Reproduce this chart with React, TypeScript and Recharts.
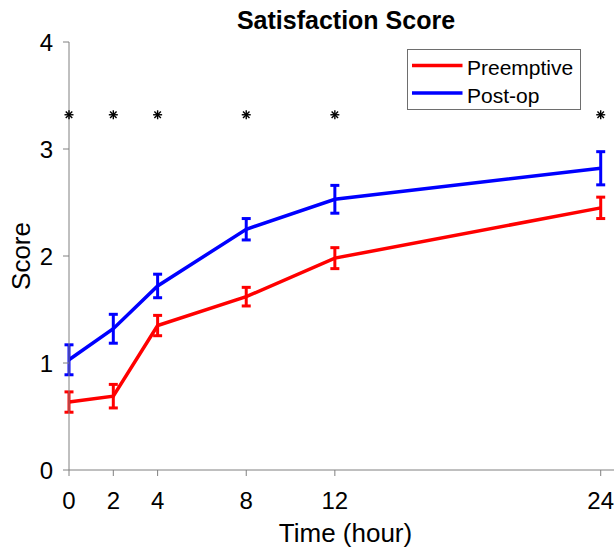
import {
  ComposedChart,
  Line,
  Scatter,
  ErrorBar,
  XAxis,
  YAxis,
  Customized,
} from "recharts";

const HOURS = [0, 2, 4, 8, 12, 24];
const PREEMPTIVE = [0.635, 0.69, 1.35, 1.62, 1.98, 2.45];
const PREEMPTIVE_ERR = [0.095, 0.11, 0.095, 0.087, 0.098, 0.1];
const POSTOP = [1.03, 1.32, 1.72, 2.25, 2.53, 2.82];
const POSTOP_ERR = [0.14, 0.135, 0.11, 0.1, 0.13, 0.155];
const SIG_LEVEL = [3.32, 3.32, 3.32, 3.32, 3.32, 3.32];
const Y_TICKS = [0, 1, 2, 3, 4];

const FONT = "'Liberation Sans', Arial, sans-serif";
const AXIS_GRAY = "#808080";

const data = HOURS.map((t, i) => ({
  t,
  pre: PREEMPTIVE[i],
  preErr: PREEMPTIVE_ERR[i],
  post: POSTOP[i],
  postErr: POSTOP_ERR[i],
  star: SIG_LEVEL[i],
}));

// matlab style '*' marker
const Asterisk = (props: any) => {
  const { cx, cy } = props;
  if (cx == null || cy == null) return null;
  const r = 4.5;
  const d = r * 0.72;
  return (
    <g stroke="#000" strokeWidth={1.4}>
      <line x1={cx - r} y1={cy} x2={cx + r} y2={cy} />
      <line x1={cx} y1={cy - r} x2={cx} y2={cy + r} />
      <line x1={cx - d} y1={cy - d} x2={cx + d} y2={cy + d} />
      <line x1={cx - d} y1={cy + d} x2={cx + d} y2={cy - d} />
    </g>
  );
};

const LegendBox = () => (
  <svg
    width={174}
    height={61}
    style={{ position: "absolute", left: 407, top: 49, display: "block" }}
  >
    <rect x={0.5} y={0.5} width={173} height={60} fill="#fff" stroke="#6e6e6e" />
    <line x1={5} y1={16.4} x2={55.5} y2={16.4} stroke="#ff0000" strokeWidth={3.5} />
    <text x={60} y={25.7} fontSize={21} fontFamily={FONT} fill="#000">
      Preemptive
    </text>
    <line x1={5} y1={44} x2={55.5} y2={44} stroke="#0000ff" strokeWidth={3.5} />
    <text x={60} y={54} fontSize={21} fontFamily={FONT} fill="#000">
      Post-op
    </text>
  </svg>
);

const Titles = () => (
  <g fontFamily={FONT} fill="#000">
    <text x={346} y={29.3} fontSize={25} fontWeight="bold" textAnchor="middle">
      Satisfaction Score
    </text>
    <text x={345.5} y={542} fontSize={26} textAnchor="middle">
      Time (hour)
    </text>
    <text
      x={30}
      y={256}
      fontSize={26}
      textAnchor="middle"
      transform="rotate(-90, 30, 256)"
    >
      Score
    </text>
  </g>
);

export default function App() {
  return (
    <div style={{ position: "absolute", left: 0, top: 0, width: 614, height: 549, background: "#fff" }}>
      <ComposedChart
        width={614}
        height={549}
        data={data}
        margin={{ top: 42, right: 0, bottom: 0, left: 0 }}
        style={{ fontFamily: FONT }}
      >
        <XAxis
          dataKey="t"
          type="number"
          domain={[0, 24.6]}
          ticks={HOURS}
          height={79}
          tickSize={6}
          tickMargin={16}
          axisLine={{ stroke: AXIS_GRAY }}
          tickLine={{ stroke: AXIS_GRAY }}
          tick={{ fill: "#000", fontSize: 24 }}
        />
        <YAxis
          type="number"
          domain={[0, 4]}
          ticks={Y_TICKS}
          width={69}
          tickSize={6}
          tickMargin={10}
          axisLine={{ stroke: AXIS_GRAY }}
          tickLine={{ stroke: AXIS_GRAY }}
          tick={{ fill: "#000", fontSize: 24 }}
        />
        <Line
          dataKey="pre"
          stroke="#ff0000"
          strokeWidth={3.5}
          dot={false}
          isAnimationActive={false}
        >
          <ErrorBar
            dataKey="preErr"
            direction="y"
            width={4.5}
            stroke="#ff0000"
            strokeWidth={3}
            isAnimationActive={false}
          />
        </Line>
        <Line
          dataKey="post"
          stroke="#0000ff"
          strokeWidth={3.5}
          dot={false}
          isAnimationActive={false}
        >
          <ErrorBar
            dataKey="postErr"
            direction="y"
            width={4.5}
            stroke="#0000ff"
            strokeWidth={3}
            isAnimationActive={false}
          />
        </Line>
        <Scatter dataKey="star" shape={<Asterisk />} isAnimationActive={false} />
        <Customized component={Titles} />
      </ComposedChart>
      <LegendBox />
    </div>
  );
}
